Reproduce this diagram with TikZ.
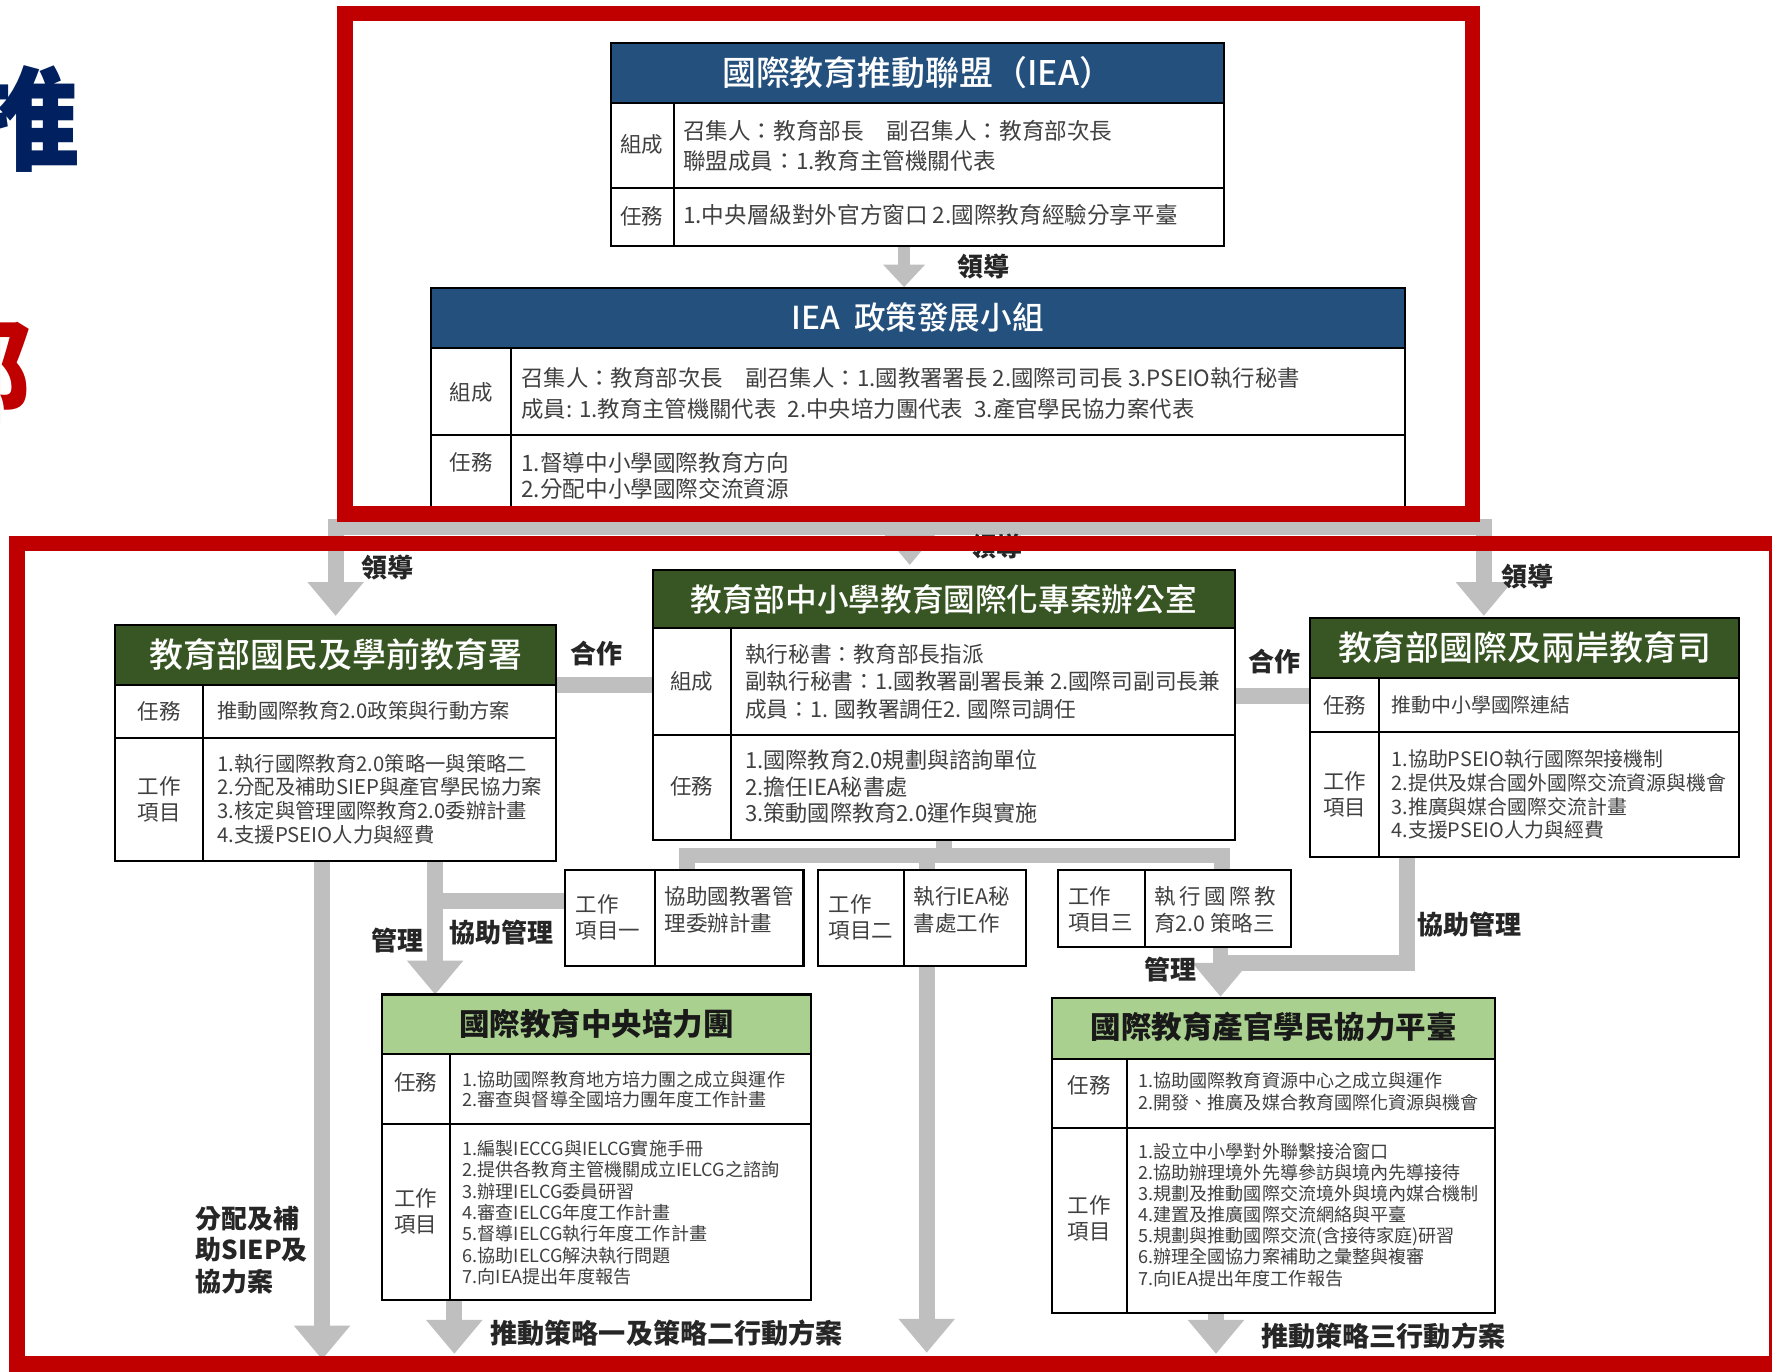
\documentclass[tikz,border=0pt]{standalone}
\usepackage{fontspec}
\setmainfont{Noto Sans CJK TC}
\newfontfamily\cjkmed{Noto Sans CJK TC Medium}
\usetikzlibrary{arrows.meta,fit}
\definecolor{ieablue}{RGB}{36,80,126}
\definecolor{dkgreen}{RGB}{56,86,35}
\definecolor{ltgreen}{RGB}{169,208,142}
\definecolor{redframe}{RGB}{192,0,0}
\definecolor{conngray}{RGB}{191,191,191}
\definecolor{txt}{RGB}{64,64,64}
\definecolor{navy}{RGB}{0,32,96}
\newcommand{\myfs}[2]{\fontsize{#1}{#2}\selectfont}
\tikzset{
  box/.style={draw=black, line width=0.9pt, fill=white, inner sep=0pt},
  rule/.style={draw=black, line width=0.9pt},
  hdw/.style={text=white, font=\cjkmed\myfs{15}{18}, inner sep=0pt},
  hdb/.style={text=black!90, font=\bfseries\myfs{13.5}{16}, inner sep=0pt},
  lab/.style={text=txt, font=\myfs{9.5}{11.5}, align=center, inner sep=0pt},
  body/.style={text=txt, align=left, anchor=west, inner sep=0pt},
  conn/.style={draw=conngray, line width=7pt, line join=miter},
  Big/.tip={Triangle[width=24pt,length=15pt]},
  note/.style={text=black!85, font=\bfseries\myfs{11.5}{14}, inner sep=0pt},
  redbox/.style={draw=redframe, line width=7pt}
}
\begin{document}
\begin{tikzpicture}[x=0.5pt,y=-0.5pt]
\useasboundingbox (0,0) rectangle (1568,1214);

% ---------- left slide title fragments ----------
\node[text=navy, font=\bfseries\myfs{50}{50}, anchor=east, inner sep=0pt] (tch1) at (72,105) {推};
\node[text=redframe, font=\bfseries\myfs{50}{50}, anchor=east, inner sep=0pt] (tch2) at (28,328) {部};

% ---------- named connector points ----------
\coordinate (jn) at (812,466);
\coordinate (jl) at (297,466);
\coordinate (jr) at (1313,466);
\coordinate (tl) at (297,545);
\coordinate (tr) at (1313,545);
\coordinate (tm) at (805,500);

% ---------- IEA ----------
\node[box, fit={(541,38)(1083,218)}] (iea) {};
\fill[ieablue] (541,38) rectangle (1083,91);
\draw[rule] (541,38) rectangle (1083,218);
\draw[rule] (541,91) -- (1083,91) (541,166) -- (1083,166) (596,91) -- (596,218);
\node[hdw] (ieat) at (812,64) {國際教育推動聯盟（IEA）};
\node[lab] (ieal1) at (568,128) {組成};
\node[lab] (ieal2) at (568,191) {任務};
\node[body, font=\myfs{10}{13.5}] (ieab1) at (604,129) {召集人：教育部長\quad 副召集人：教育部次長\\聯盟成員：1.教育主管機關代表};
\node[body, font=\myfs{10}{13.5}] (ieab2) at (604,190) {1.中央層級對外官方窗口 2.國際教育經驗分享平臺};

% ---------- IEA policy group ----------
\node[box, fit={(381,255)(1243,458)}] (pol) {};
\fill[ieablue] (381,255) rectangle (1243,308);
\draw[rule] (381,255) rectangle (1243,458);
\draw[rule] (381,308) -- (1243,308) (381,385) -- (1243,385) (452,308) -- (452,458);
\node[hdw, font=\cjkmed\myfs{14}{17}] (polt) at (812,281) {IEA\ \ 政策發展小組};
\node[lab] (poll1) at (417,347) {組成};
\node[lab] (poll2) at (417,409) {任務};
\node[body, font=\myfs{9.9}{13.5}] (polb1) at (461,348) {召集人：教育部次長\quad 副召集人：1.國教署署長 2.國際司司長 3.PSEIO執行秘書\\成員: 1.教育主管機關代表\enspace 2.中央培力團代表\enspace 3.產官學民協力案代表};
\node[body, font=\myfs{10}{11.5}] (polb2) at (461,421) {1.督導中小學國際教育方向\\2.分配中小學國際交流資源};

\draw[conn, line width=5pt, -{Triangle[width=18pt,length=10pt]}] ([xshift=-6pt]iea.south) -- ([xshift=-6pt]pol.north);
\draw[conn] (pol.south) -- (jn);
\draw[conn, Big-Big] (tl) -- (jl) -- (jr) -- (tr);
\draw[conn, -Big] (805,466) -- (tm);
\node[note] (lead0) at (870,236) {領導};
\node[note] (lead1) at (343,502) {領導};
\node[note] (lead2) at (882,484) {領導};
\node[note] (lead3) at (1352,510) {領導};

% ---------- connectors among lower boxes ----------
\coordinate (cl1) at (492,606); \coordinate (cl2) at (578,606);
\coordinate (cr1) at (1093,616); \coordinate (cr2) at (1159,616);
\draw[conn] (cl1) -- (cl2);
\draw[conn] (cr1) -- (cr2);
\draw[conn] (608,770) -- (608,757) -- (1081,757) -- (1081,770);
\draw[conn] (835,743) -- (835,757);
\draw[conn, -Big] (820,757) -- (820,1197);
\draw[conn, -Big] (285,762) -- (285,1203);
\draw[conn, -Big] (385,762) -- (385,880);
\draw[conn] (500,797) -- (385,797);
\draw[conn] (1245,758) -- (1245,852) -- (1080,852);
\draw[conn, -Big] (1080,838) -- (1080,882);
\draw[conn, -Big] (402,1150) -- (402,1198);
\draw[conn, -Big] (1076,1162) -- (1076,1198);

% ---------- K-12 & preschool administration ----------
\node[box, fit={(102,553)(492,762)}] (nae) {};
\fill[dkgreen] (102,553) rectangle (492,606);
\draw[rule] (102,553) rectangle (492,762);
\draw[rule] (102,606) -- (492,606) (102,653) -- (492,653) (180,606) -- (180,762);
\node[hdw] (naet) at (297,579) {教育部國民及學前教育署};
\node[lab] (nael1) at (141,629) {任務};
\node[lab] (nael2) at (141,707) {工作\\項目};
\node[body, font=\myfs{9}{10.5}] (naeb1) at (192,629) {推動國際教育2.0政策與行動方案};
\node[body, font=\myfs{9}{10.5}] (naeb2) at (192,707) {1.執行國際教育2.0策略一與策略二\\2.分配及補助SIEP與產官學民協力案\\3.核定與管理國際教育2.0委辦計畫\\4.支援PSEIO人力與經費};

% ---------- project office ----------
\node[box, fit={(578,504)(1093,743)}] (pso) {};
\fill[dkgreen] (578,504) rectangle (1093,556);
\draw[rule] (578,504) rectangle (1093,743);
\draw[rule] (578,556) -- (1093,556) (578,650) -- (1093,650) (647,556) -- (647,743);
\node[hdw, font=\cjkmed\myfs{14}{17}] (psot) at (835,530) {教育部中小學教育國際化專案辦公室};
\node[lab] (psol1) at (612,603) {組成};
\node[lab] (psol2) at (612,696) {任務};
\node[body, font=\myfs{9.6}{12.25}] (psob1) at (659,603) {執行秘書：教育部長指派\\副執行秘書：1.國教署副署長兼 2.國際司副司長兼\\成員：1. 國教署調任2. 國際司調任};
\node[body, font=\myfs{9.8}{11.75}] (psob2) at (659,696) {1.國際教育2.0規劃與諮詢單位\\2.擔任IEA秘書處\\3.策動國際教育2.0運作與實施};

% ---------- international & cross-strait dept ----------
\node[box, fit={(1159,547)(1539,758)}] (dia) {};
\fill[dkgreen] (1159,547) rectangle (1539,600);
\draw[rule] (1159,547) rectangle (1539,758);
\draw[rule] (1159,600) -- (1539,600) (1159,648) -- (1539,648) (1220,600) -- (1220,758);
\node[hdw] (diat) at (1349,573) {教育部國際及兩岸教育司};
\node[lab] (dial1) at (1190,624) {任務};
\node[lab] (dial2) at (1190,703) {工作\\項目};
\node[body, font=\myfs{8.8}{10.6}] (diab1) at (1231,624) {推動中小學國際連結};
\node[body, font=\myfs{8.8}{10.6}] (diab2) at (1231,703) {1.協助PSEIO執行國際架接機制\\2.提供及媒合國外國際交流資源與機會\\3.推廣與媒合國際交流計畫\\4.支援PSEIO人力與經費};

\node[note] (coop1) at (528,578) {合作};
\node[note] (coop2) at (1128,585) {合作};

% ---------- work items ----------
\node[box, fit={(500,770)(711,855)}] (w1) {};
\draw[rule] (580,770) -- (580,855);
\node[lab, align=left, anchor=west] (w1l) at (509,812) {工作\\項目一};
\node[body, font=\myfs{9.5}{12}] (w1b) at (588,805) {協助國教署管\\理委辦計畫};

\node[box, fit={(724,770)(908,855)}] (w2) {};
\draw[rule] (800,770) -- (800,855);
\node[lab, align=left, anchor=west] (w2l) at (733,812) {工作\\項目二};
\node[body, font=\myfs{9.5}{12}] (w2b) at (808,805) {執行IEA秘\\書處工作};

\node[box, fit={(936,770)(1142,838)}] (w3) {};
\draw[rule] (1013,770) -- (1013,838);
\node[lab, align=left, anchor=west] (w3l) at (945,805) {工作\\項目三};
\node[body, font=\myfs{9.5}{12}] (w3b) at (1021,805) {執\,行\,國\,際\,教\\育2.0 策略三};

\node[note] (mg1) at (352,832) {管理};
\node[note] (amg1) at (444,825) {協助管理};
\node[note] (mg2) at (1036,858) {管理};
\node[note] (amg2) at (1300,818) {協助管理};

% ---------- central training group ----------
\node[box, fit={(338,880)(718,1150)}] (cct) {};
\fill[ltgreen] (338,880) rectangle (718,933);
\draw[rule] (338,880) rectangle (718,1150);
\draw[rule] (338,933) -- (718,933) (338,995) -- (718,995) (398,933) -- (398,1150);
\node[hdb] (cctt) at (528,906) {國際教育中央培力團};
\node[lab] (cctl1) at (368,958) {任務};
\node[lab] (cctl2) at (368,1072) {工作\\項目};
\node[body, font=\myfs{8}{9}] (cctb1) at (409,964) {1.協助國際教育地方培力團之成立與運作\\2.審查與督導全國培力團年度工作計畫};
\node[body, font=\myfs{8}{9.5}] (cctb2) at (409,1073) {1.編製IECCG與IELCG實施手冊\\2.提供各教育主管機關成立IELCG之諮詢\\3.辦理IELCG委員研習\\4.審查IELCG年度工作計畫\\5.督導IELCG執行年度工作計畫\\6.協助IELCG解決執行問題\\7.向IEA提出年度報告};

% ---------- platform ----------
\node[box, fit={(931,883)(1323,1162)}] (plf) {};
\fill[ltgreen] (931,883) rectangle (1323,937);
\draw[rule] (931,883) rectangle (1323,1162);
\draw[rule] (931,937) -- (1323,937) (931,998) -- (1323,998) (997,937) -- (997,1162);
\node[hdb] (plft) at (1127,909) {國際教育產官學民協力平臺};
\node[lab] (plfl1) at (964,960) {任務};
\node[lab] (plfl2) at (964,1078) {工作\\項目};
\node[body, font=\myfs{8}{9.5}] (plfb1) at (1007,966) {1.協助國際教育資源中心之成立與運作\\2.開發、推廣及媒合教育國際化資源與機會};
\node[body, font=\myfs{8}{9.35}] (plfb2) at (1007,1075) {1.設立中小學對外聯繫接洽窗口\\2.協助辦理境外先導參訪與境內先導接待\\3.規劃及推動國際交流境外與境內媒合機制\\4.建置及推廣國際交流網絡與平臺\\5.規劃與推動國際交流(含接待家庭)研習\\6.辦理全國協力案補助之彙整與複審\\7.向IEA提出年度工作報告};

% ---------- bottom labels ----------
\node[note, align=left, anchor=west, font=\bfseries\myfs{11.5}{14}] (dist) at (173,1106) {分配及補\\助SIEP及\\協力案};
\node[note, font=\bfseries\myfs{12}{14}] (act12) at (590,1180) {推動策略一及策略二行動方案};
\node[note, font=\bfseries\myfs{12}{14}] (act3) at (1224,1182) {推動策略三行動方案};

% ---------- red frames ----------
\draw[redbox] (305,12) rectangle (1303,455);
\draw[redbox] (15,481) rectangle (1572,1207);
\end{tikzpicture}
\end{document}
